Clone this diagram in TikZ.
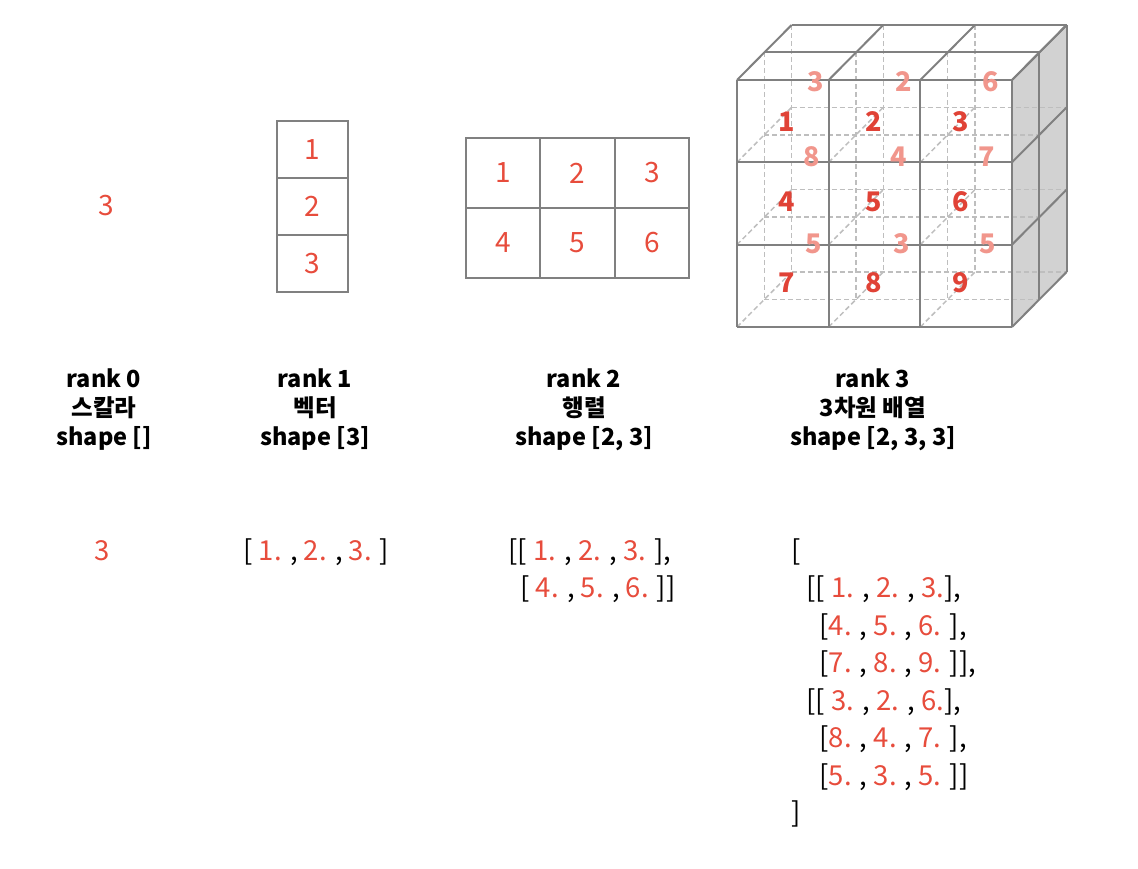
\documentclass[tikz,border=0pt]{standalone}
\usepackage{fontspec}
\setmainfont{Noto Sans CJK KR}
\definecolor{numred}{RGB}{231,76,60}
\definecolor{cubered}{RGB}{224,66,54}
\definecolor{backpink}{RGB}{241,150,140}
\definecolor{gridgray}{RGB}{128,128,128}
\definecolor{hidegray}{RGB}{190,190,190}
\definecolor{sidegray}{RGB}{210,210,210}
\newcommand{\nv}[1]{\textcolor{numred}{#1}}

\begin{document}
\begin{tikzpicture}[x=1pt,y=-1pt,
    cellbox/.style={draw=gridgray,line width=2pt,inner sep=0pt,text=numred,font=\fontsize{28}{28}\selectfont},
    solid edge/.style={draw=gridgray,line width=2pt},
    hidden/.style={draw=hidegray,line width=1.5pt,dash pattern=on 5pt off 3pt},
    title/.style={align=center,font=\bfseries\fontsize{23.5}{29}\selectfont},
    code/.style={anchor=base west,font=\fontsize{27.5}{27.5}\selectfont}]

  \useasboundingbox (0,0) rectangle (1138,869);

  % rank 0
  \node[text=numred,font=\fontsize{28}{28}\selectfont] (s) at (106,206) {3};

  % rank 1
  \begin{scope}[every node/.style={cellbox,minimum width=71pt,minimum height=57pt}]
    \node (v1) at (312.5,149.5) {1};
    \node (v2) at (312.5,206.5) {2};
    \node (v3) at (312.5,263.5) {3};
  \end{scope}

  % rank 2
  \begin{scope}[every node/.style={cellbox,minimum width=74.3pt,minimum height=70pt}]
    \node (m1) at (503.2,173) {1};
    \node (m2) at (577.5,173) {2};
    \node (m3) at (651.8,173) {3};
    \node (m4) at (503.2,243) {4};
    \node (m5) at (577.5,243) {5};
    \node (m6) at (651.8,243) {6};
  \end{scope}

  % rank 3
  \fill[sidegray] (1012,80) -- (1066.6,25) -- (1066.6,272) -- (1012,327) -- cycle;
  \foreach \k in {1,2} {
    \foreach \i in {0,1,2}
      \draw[hidden] (737+91.67*\i+27.3*\k,80-27.5*\k) -- ++(0,247);
    \foreach \j in {1,2,3}
      \draw[hidden] (737+27.3*\k,80+82.33*\j-27.5*\k) -- ++(275,0);
  }
  \foreach \i in {0,1,2}
    \foreach \j in {1,2,3}
      \draw[hidden] (737+91.67*\i,80+82.33*\j) -- ++(54.6,-55);

  \foreach \i in {0,...,3} {
    \draw[solid edge] (737+91.67*\i,80) -- ++(0,247);
    \draw[solid edge] (737+91.67*\i,80) -- ++(54.6,-55);
  }
  \foreach \j in {0,...,3} {
    \draw[solid edge] (737,80+82.33*\j) -- ++(275,0);
    \draw[solid edge] (1012,80+82.33*\j) -- ++(54.6,-55);
  }
  \foreach \k in {1,2} {
    \draw[solid edge] (737+27.3*\k,80-27.5*\k) -- ++(275,0);
    \draw[solid edge] (1012+27.3*\k,80-27.5*\k) -- ++(0,247);
  }

  \begin{scope}[every node/.style={text=backpink,font=\bfseries\fontsize{27}{27}\selectfont}]
    \node (b1) at (816,82) {3};
    \node (b2) at (904,82) {2};
    \node (b3) at (991,82) {6};
    \node (b4) at (812,157) {8};
    \node (b5) at (899,157) {4};
    \node (b6) at (987,157) {7};
    \node (b7) at (814,244) {5};
    \node (b8) at (902,244) {3};
    \node (b9) at (988,244) {5};
  \end{scope}
  \begin{scope}[every node/.style={text=cubered,font=\bfseries\fontsize{27}{27}\selectfont}]
    \node (f1) at (787,122) {1};
    \node (f2) at (874,122) {2};
    \node (f3) at (961,122) {3};
    \node (f4) at (787,202) {4};
    \node (f5) at (874,202) {5};
    \node (f6) at (961,202) {6};
    \node (f7) at (787,283) {7};
    \node (f8) at (874,283) {8};
    \node (f9) at (961,283) {9};
  \end{scope}

  % titles
  \begin{scope}[every node/.style={title}]
    \node (t0) at (104,410) {rank 0\\스칼라\\shape []};
    \node (t1) at (315,410) {rank 1\\벡터\\shape [3]};
    \node (t2) at (584,410) {rank 2\\행렬\\shape [2, 3]};
    \node (t3) at (873,410) {rank 3\\3차원 배열\\shape [2, 3, 3]};
  \end{scope}

  % values
  \begin{scope}[every node/.style={code}]
    \node (c0) at (91,560) {\nv{3}};
    \node (c1) at (240,560) {[ \nv{1.} , \nv{2.} , \nv{3.} ]};
    \node (c2a) at (505,560) {[[ \nv{1.} , \nv{2.} , \nv{3.} ],};
    \node (c2b) at (517,597) {[ \nv{4.} , \nv{5.} , \nv{6.} ]]};
    \node (c3a) at (788,560) {[};
    \node (c3b) at (803,597) {[[ \nv{1.} , \nv{2.} , \nv{3.}],};
    \node (c3c) at (816,635) {[\nv{4.} , \nv{5.} , \nv{6.} ],};
    \node (c3d) at (816,672) {[\nv{7.} , \nv{8.} , \nv{9.} ]],};
    \node (c3e) at (803,710) {[[ \nv{3.} , \nv{2.} , \nv{6.}],};
    \node (c3f) at (816,747) {[\nv{8.} , \nv{4.} , \nv{7.} ],};
    \node (c3g) at (816,785) {[\nv{5.} , \nv{3.} , \nv{5.} ]]};
    \node (c3h) at (788,822) {]};
  \end{scope}
\end{tikzpicture}
\end{document}
